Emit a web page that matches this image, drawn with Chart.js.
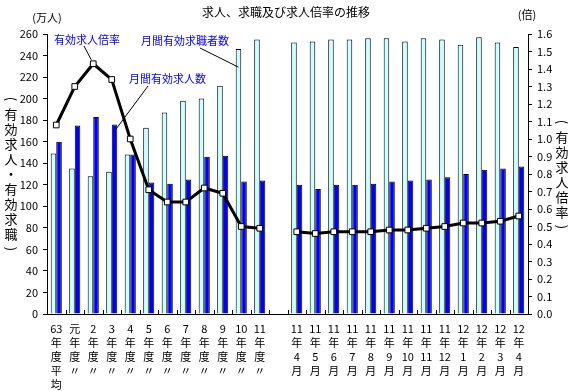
<!DOCTYPE html>
<html>
<head>
<meta charset="utf-8">
<script src="https://cdn.jsdelivr.net/npm/chart.js@4"></script>
<style>
body { margin: 0; background: #fff; }
#wrap { width: 573px; height: 391px; }
</style>
</head>
<body>
<div id="wrap"><canvas id="chart" width="573" height="391"></canvas></div>
<script>
// カテゴリ（年度平均 + 月次）
const labels = [
    ["63", "年", "度", "平", "均"], ["元", "年", "度", "〃"], ["2", "年", "度", "〃"],
    ["3", "年", "度", "〃"], ["4", "年", "度", "〃"], ["5", "年", "度", "〃"],
    ["6", "年", "度", "〃"], ["7", "年", "度", "〃"], ["8", "年", "度", "〃"],
    ["9", "年", "度", "〃"], ["10", "年", "度", "〃"], ["11", "年", "度", "〃"],
    "",
    ["11", "年", "4", "月"], ["11", "年", "5", "月"], ["11", "年", "6", "月"],
    ["11", "年", "7", "月"], ["11", "年", "8", "月"], ["11", "年", "9", "月"],
    ["11", "年", "10", "月"], ["11", "年", "11", "月"], ["11", "年", "12", "月"],
    ["12", "年", "1", "月"], ["12", "年", "2", "月"], ["12", "年", "3", "月"],
    ["12", "年", "4", "月"]
];

// 月間有効求職者数（万人）
const kyushokusha = [149, 135, 128, 132, 148, 173, 187, 198, 200, 212, 246, 255, null,
    252, 253, 255, 255, 256, 256, 253, 256, 255, 250, 257, 252, 248];

// 月間有効求人数（万人）
const kyujin = [160, 175, 183, 176, 148, 122, 121, 125, 146, 147, 123, 124, null,
    120, 116, 120, 120, 121, 123, 124, 125, 127, 130, 134, 135, 137];

// 有効求人倍率（倍）
const bairitsu = [1.08, 1.30, 1.43, 1.34, 1.00, 0.71, 0.64, 0.64, 0.72, 0.69, 0.50, 0.49, null,
    0.47, 0.46, 0.47, 0.47, 0.47, 0.48, 0.48, 0.49, 0.50, 0.52, 0.52, 0.53, 0.56];

const FONT = '"Noto Sans CJK JP", "Noto Sans", sans-serif';
const BLUE_TEXT = "#0000ff";

// 縦書き（括弧は回転して描く）
function drawVertical(ctx, chars, cx, y0) {
    chars.forEach((c, i) => {
        const cy = y0 + i * 15;
        if (c === "(" || c === ")") {
            ctx.save();
            ctx.translate(cx, cy);
            ctx.rotate(Math.PI / 2);
            ctx.fillText(c, 0, 0);
            ctx.restore();
        } else {
            ctx.fillText(c, cx, cy);
        }
    });
}

// 見出し・軸タイトル・吹き出し
const textPlugin = {
    id: "texts",
    afterDraw(chart) {
        const ctx = chart.ctx;
        const x = chart.scales.x;
        const y = chart.scales.y;
        const y1 = chart.scales.y1;
        const area = chart.chartArea;
        ctx.save();

        // x軸の内向き目盛り
        ctx.strokeStyle = "#000";
        ctx.lineWidth = 1;
        const step = (area.right - area.left) / labels.length;
        ctx.beginPath();
        for (let i = 1; i < labels.length; i++) {
            const px = Math.round(area.left + i * step) + 0.5;
            ctx.moveTo(px, area.bottom);
            ctx.lineTo(px, area.bottom - 4);
        }
        ctx.stroke();

        ctx.fillStyle = "#000";
        ctx.textAlign = "center";
        ctx.textBaseline = "middle";
        ctx.font = "12px " + FONT;
        ctx.fillText("求人、求職及び求人倍率の推移", 286, 12);
        ctx.font = "11px " + FONT;
        ctx.fillText("(万人)", 47, 18);
        ctx.fillText("(倍)", 527, 15);

        ctx.font = "13px " + FONT;
        drawVertical(ctx, ["(", "有", "効", "求", "人", "・", "有", "効", "求", "職", ")"], 11, 99);
        drawVertical(ctx, ["(", "有", "効", "求", "人", "倍", "率", ")"], 562, 122);

        // 吹き出し
        ctx.fillStyle = BLUE_TEXT;
        ctx.textAlign = "left";
        ctx.font = "11px " + FONT;
        ctx.fillText("有効求人倍率", 54, 40);
        ctx.fillText("月間有効求職者数", 141, 41);
        ctx.fillText("月間有効求人数", 129, 79);

        ctx.beginPath();
        ctx.moveTo(84, 46);
        ctx.lineTo(x.getPixelForValue(2) - 2, y1.getPixelForValue(bairitsu[2]) - 4);
        ctx.moveTo(200, 48);
        ctx.lineTo(x.getPixelForValue(10) - 3, y.getPixelForValue(kyushokusha[10]) + 18);
        ctx.moveTo(148, 86);
        ctx.lineTo(x.getPixelForValue(3) + 4, y.getPixelForValue(kyujin[3]) + 5);
        ctx.stroke();
        ctx.restore();
    }
};

new Chart(document.getElementById("chart"), {
    type: "bar",
    data: {
        labels: labels,
        datasets: [
            {
                type: "line",
                label: "有効求人倍率",
                data: bairitsu,
                yAxisID: "y1",
                borderColor: "#000",
                borderWidth: 3,
                pointStyle: "rect",
                pointRadius: 4,
                pointBackgroundColor: "#fff",
                pointBorderColor: "#000",
                pointBorderWidth: 1,
                spanGaps: false,
                tension: 0,
                order: 0
            },
            {
                label: "月間有効求職者数",
                data: kyushokusha,
                yAxisID: "y",
                backgroundColor: "#ccffff",
                borderColor: "#000",
                borderWidth: 1,
                categoryPercentage: 0.6,
                barPercentage: 1,
                order: 1
            },
            {
                label: "月間有効求人数",
                data: kyujin,
                yAxisID: "y",
                backgroundColor: "#0000ff",
                borderColor: "#000",
                borderWidth: 1,
                categoryPercentage: 0.6,
                barPercentage: 1,
                order: 1
            }
        ]
    },
    options: {
        responsive: false,
        animation: false,
        layout: {
            padding: { top: 34, left: 0, right: 0, bottom: 0 }
        },
        plugins: {
            legend: { display: false },
            tooltip: { enabled: false }
        },
        scales: {
            x: {
                grid: { display: false },
                border: { display: true, color: "#000", width: 1 },
                ticks: {
                    color: "#000",
                    maxRotation: 0,
                    autoSkip: false,
                    padding: 0,
                    font: { family: FONT, size: 11, lineHeight: "14px" }
                },
                afterFit: (scale) => { scale.height = 77; }
            },
            y: {
                position: "left",
                min: 0,
                max: 260,
                ticks: {
                    stepSize: 20,
                    color: "#000",
                    padding: 5,
                    font: { family: FONT, size: 11 }
                },
                grid: { drawOnChartArea: false, tickLength: 4, color: "#000" },
                border: { display: true, color: "#000", width: 1 },
                afterFit: (scale) => { scale.width = 47; }
            },
            y1: {
                position: "right",
                min: 0,
                max: 1.6,
                ticks: {
                    stepSize: 0.1,
                    color: "#000",
                    padding: 5,
                    font: { family: FONT, size: 11 },
                    callback: (v) => v.toFixed(1)
                },
                grid: { drawOnChartArea: false, tickLength: 4, color: "#000" },
                border: { display: true, color: "#000", width: 1 },
                afterFit: (scale) => { scale.width = 45; }
            }
        }
    },
    plugins: [textPlugin]
});
</script>
</body>
</html>
